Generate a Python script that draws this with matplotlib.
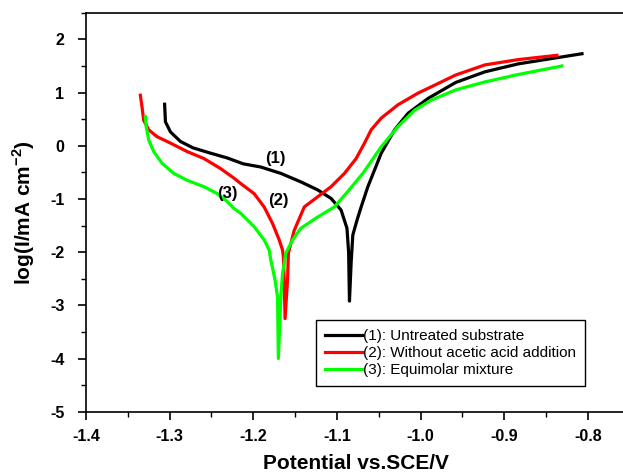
import matplotlib
matplotlib.use("Agg")
import matplotlib.pyplot as plt
from matplotlib.ticker import MultipleLocator

plt.rcParams['font.family'] = ['Liberation Sans', 'DejaVu Sans']
plt.rcParams['mathtext.fontset'] = 'custom'
plt.rcParams['mathtext.rm'] = 'Liberation Sans'
plt.rcParams['mathtext.bf'] = 'Liberation Sans:bold'

# Tafel polarization curves: potential (V vs SCE) and log current density
pot_1 = [-1.306, -1.305, -1.299, -1.287, -1.272, -1.251, -1.231, -1.212, -1.191,
         -1.167, -1.143, -1.123, -1.107, -1.095, -1.088, -1.086, -1.085, -1.083,
         -1.081, -1.076, -1.071, -1.063, -1.047, -1.031, -1.015, -0.991, -0.958,
         -0.923, -0.883, -0.843, -0.807]
log_1 = [0.78, 0.45, 0.26, 0.08, -0.04, -0.14, -0.23, -0.34, -0.40,
         -0.52, -0.68, -0.83, -0.99, -1.21, -1.55, -2.00, -2.92, -2.20,
         -1.68, -1.40, -1.15, -0.77, -0.14, 0.30, 0.61, 0.89, 1.19,
         1.39, 1.54, 1.64, 1.73]

pot_2 = [-1.335, -1.333, -1.331, -1.325, -1.315, -1.299, -1.279, -1.259, -1.239,
         -1.223, -1.215, -1.199, -1.187, -1.177, -1.169, -1.165, -1.164, -1.163,
         -1.162, -1.159, -1.158, -1.153, -1.151, -1.139, -1.123, -1.107, -1.091,
         -1.077, -1.067, -1.059, -1.047, -1.027, -1.003, -0.979, -0.958, -0.923,
         -0.883, -0.837]
log_2 = [0.95, 0.73, 0.48, 0.30, 0.17, 0.05, -0.11, -0.24, -0.43,
         -0.61, -0.71, -0.90, -1.15, -1.46, -1.77, -1.96, -2.09, -2.52,
         -3.25, -2.52, -2.02, -1.71, -1.59, -1.15, -0.96, -0.77, -0.52,
         -0.24, 0.05, 0.30, 0.52, 0.77, 0.99, 1.17, 1.33, 1.52,
         1.62, 1.70]

pot_3 = [-1.329, -1.328, -1.325, -1.319, -1.309, -1.295, -1.279, -1.259, -1.243,
         -1.231, -1.223, -1.215, -1.199, -1.187, -1.181, -1.179, -1.174, -1.171,
         -1.170, -1.167, -1.165, -1.161, -1.153, -1.143, -1.123, -1.103, -1.087,
         -1.069, -1.047, -1.027, -1.007, -0.987, -0.958, -0.923, -0.883, -0.831]
log_3 = [0.55, 0.36, 0.11, -0.11, -0.33, -0.52, -0.65, -0.77, -0.90,
         -1.05, -1.18, -1.27, -1.52, -1.77, -1.96, -2.15, -2.52, -2.84,
         -4.00, -2.84, -2.40, -2.02, -1.77, -1.55, -1.34, -1.15, -0.86,
         -0.52, -0.02, 0.36, 0.67, 0.86, 1.05, 1.20, 1.34, 1.50]

series_labels = ["(1): Untreated substrate",
                 "(2): Without acetic acid addition",
                 "(3): Equimolar mixture"]
series_colors = ["#000000", "#ff0000", "#00ff00"]

# curve tags placed next to the traces
tag_text = ["(1)", "(2)", "(3)"]
tag_pot = [-1.174, -1.170, -1.231]
tag_log = [-0.24, -1.03, -0.90]

fig = plt.figure(figsize=(6.23, 4.73), dpi=100)
ax = fig.add_axes([0.138, 0.1296, 0.866, 0.8434])

for x, y, lab, c in zip([pot_1, pot_2, pot_3], [log_1, log_2, log_3],
                        series_labels, series_colors):
    ax.plot(x, y, color=c, lw=2.3, label=lab, solid_joinstyle='round')

for t, x, y in zip(tag_text, tag_pot, tag_log):
    ax.text(x, y, t, fontsize=12, fontweight='bold', ha='center', va='center')

ax.set_xlim(-1.4, -0.755)
ax.set_ylim(-5, 2.5)
ax.xaxis.set_minor_locator(MultipleLocator(0.05))
ax.yaxis.set_minor_locator(MultipleLocator(0.5))
ax.set_xticks([-1.4, -1.3, -1.2, -1.1, -1.0, -0.9, -0.8])
ax.set_xticklabels(['-1.4', '-1.3', '-1.2', '-1.1', '-1.0', '-0.9', '-0.8'])
ax.set_yticks([2, 1, 0, -1, -2, -3, -4, -5])
ax.set_yticklabels(['2', '1', '0', '-1', '-2', '-3', '-4', '-5'])

ax.tick_params(which='major', direction='out', length=5.5, width=1.2,
               labelsize=11.5)
ax.tick_params(axis='y', which='major', pad=10)
ax.tick_params(axis='x', which='major', pad=7)
ax.tick_params(which='minor', direction='out', length=3.5, width=1.0)
for lbl in ax.get_xticklabels() + ax.get_yticklabels():
    lbl.set_fontweight('bold')

ax.spines['right'].set_visible(False)
for s in ['left', 'top', 'bottom']:
    ax.spines[s].set_linewidth(1.2)

ax.set_xlabel('Potential vs.SCE/V', fontsize=15, fontweight='bold', labelpad=7.5)
ax.set_ylabel(r'log(I/mA cm$^{\mathbf{-2}}$)', fontsize=15, fontweight='bold',
              labelpad=9.5)

leg = ax.legend(loc='upper left', bbox_to_anchor=(0.426, 0.2298),
                fontsize=11, frameon=True, fancybox=False, framealpha=1,
                edgecolor='black', handlelength=2.4, handletextpad=0.1,
                borderpad=0.6, labelspacing=0.2, borderaxespad=0)
leg.get_frame().set_linewidth(1.0)

fig.savefig('out.png', dpi=100)
